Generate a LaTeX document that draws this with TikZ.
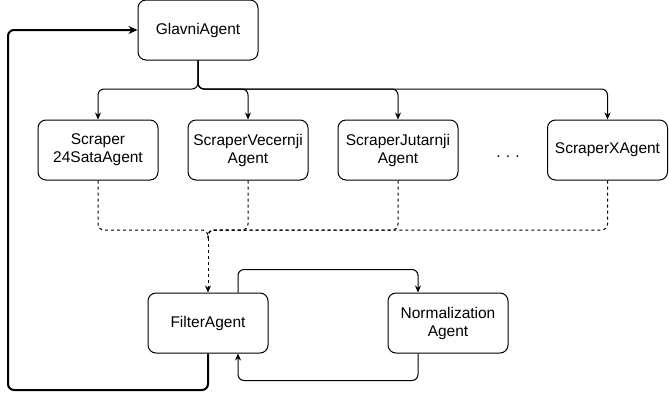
\documentclass[tikz,border=0pt]{standalone}
\usepackage{fontspec}
\setmainfont{Liberation Sans}
\usetikzlibrary{arrows.meta}
\begin{document}
\begin{tikzpicture}[x=1pt,y=-1pt,
  agent/.style={draw, line width=1pt, rounded corners=8pt, minimum width=120pt, minimum height=60pt,
    align=center, inner sep=0pt, font=\fontsize{15.5}{18}\selectfont},
  line/.style={line width=1pt, rounded corners=6pt},
  conn/.style={line, -{Stealth[length=7pt,width=6pt]}},
  dline/.style={line, dash pattern=on 3pt off 3pt},
  dconn/.style={conn, dash pattern=on 3pt off 3pt},
  fconn/.style={conn, line width=2pt, -{Stealth[length=9pt,width=8pt]}}]
\useasboundingbox (0,0) rectangle (669,400);
\node[agent] (glavni) at (198,30) {GlavniAgent};
\node[agent] (s1) at (98,150) {Scraper\\24SataAgent};
\node[agent] (s2) at (248,150) {ScraperVecernji\\Agent};
\node[agent] (s3) at (398,150) {ScraperJutarnji\\Agent};
\node[agent] (s4) at (607.5,150) {ScraperXAgent};
\node[anchor=base, font=\fontsize{15.5}{18}\selectfont] (dots) at (508,157) {.\,\,.\,\,.};
\node[agent] (filter) at (208,323) {FilterAgent};
\node[agent] (norm) at (448,323) {Normalization\\Agent};
\coordinate (top) at (198,89);
\coordinate (merge) at (208,230);
\coordinate (mstub) at (208,238);
\coordinate (fb) at (8,390);
\foreach \s in {s1,s2,s3,s4}{
  \draw[conn] (glavni.south) -- (top) -| (\s.north);
  \draw[dline] (\s.south) |- (merge) -- (mstub);
}
\draw[dconn] (mstub) -- (filter.north);
\draw[conn] ([xshift=30pt]filter.north) -- ++(0,-23) -| ([xshift=-30pt]norm.north);
\draw[conn] ([xshift=-30pt]norm.south) -- ++(0,27) -| ([xshift=30pt]filter.south);
\draw[fconn] (filter.south) |- (fb) |- (glavni.west);
\end{tikzpicture}
\end{document}
